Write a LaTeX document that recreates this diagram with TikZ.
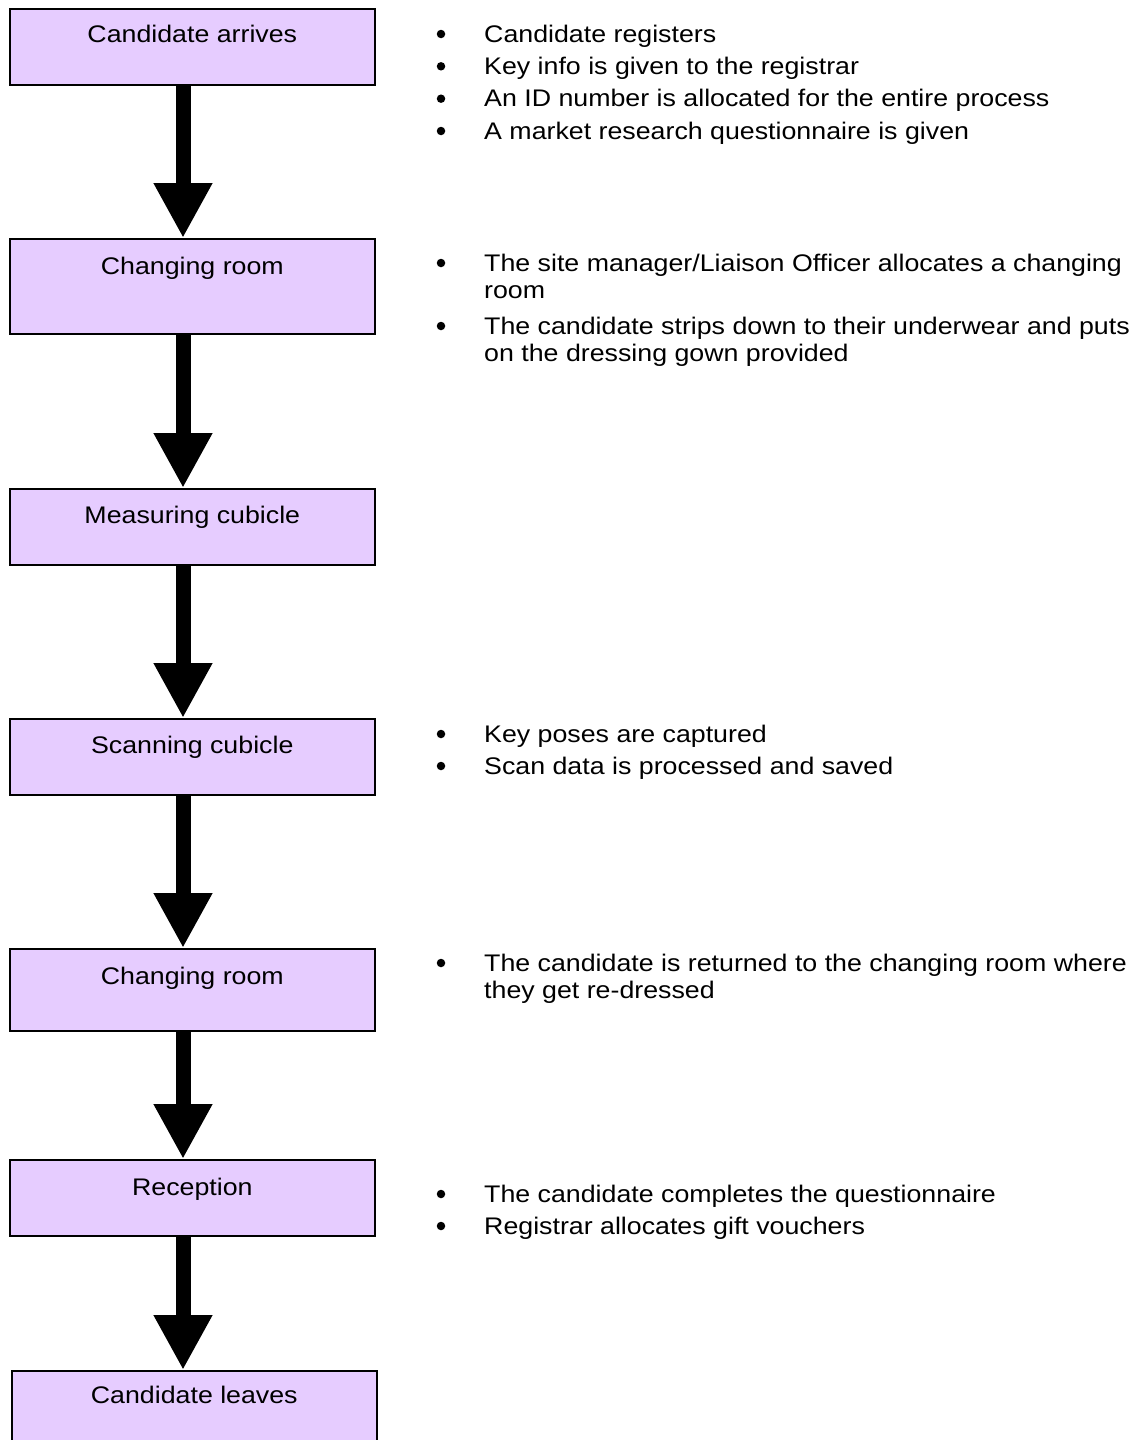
\documentclass[tikz,border=0pt]{standalone}
\usepackage{fontspec}
\setmainfont{Liberation Sans}[FakeStretch=1.115]
\usetikzlibrary{arrows.meta}
\definecolor{boxfill}{RGB}{230,204,255}
\begin{document}
\begin{tikzpicture}[x=1pt,y=-1pt,
  txt/.style={font=\fontsize{24pt}{27.6pt}\selectfont, inner sep=0pt},
  stagebox/.style={draw=black, line width=1.6pt, fill=boxfill, minimum width=365pt, inner sep=0pt, anchor=north west},
  boxlabel/.style={txt, anchor=base},
  bul/.style={circle, fill=black, minimum size=8.5pt, inner sep=0pt, yshift=8pt},
  btxt/.style={txt, anchor=base west},
  flow/.style={line width=15pt, -{Triangle[width=55pt,length=55pt]}}]
\useasboundingbox (0,0) rectangle (1135,1440);
\fill[white] (0,0) rectangle (1135,1440);
\clip (0,0) rectangle (1135,1440);

% stage boxes
\node[stagebox, minimum height=76pt] (b1) at (9,8) {};
\node[stagebox, minimum height=95pt] (b2) at (9,238) {};
\node[stagebox, minimum height=76pt] (b3) at (9,488) {};
\node[stagebox, minimum height=76pt] (b4) at (9,718) {};
\node[stagebox, minimum height=82pt] (b5) at (9,948) {};
\node[stagebox, minimum height=76pt] (b6) at (9,1159) {};
\node[stagebox, minimum height=90pt] (b7) at (11,1370) {};

% box labels
\node[boxlabel] (l1) at ([yshift=-34pt]b1.north) {Candidate arrives};
\node[boxlabel] (l2) at ([yshift=-36pt]b2.north) {Changing room};
\node[boxlabel] (l3) at ([yshift=-35pt]b3.north) {Measuring cubicle};
\node[boxlabel] (l4) at ([yshift=-35pt]b4.north) {Scanning cubicle};
\node[boxlabel] (l5) at ([yshift=-36pt]b5.north) {Changing room};
\node[boxlabel] (l6) at ([yshift=-36pt]b6.north) {Reception};
\node[boxlabel] (l7) at ([yshift=-33pt]b7.north) {Candidate leaves};

% arrows
\coordinate (ax) at (183,0);
\draw[flow] (b1.south -| ax) -- (b2.north -| ax);
\draw[flow] (b2.south -| ax) -- (b3.north -| ax);
\draw[flow] (b3.south -| ax) -- (b4.north -| ax);
\draw[flow] (b4.south -| ax) -- (b5.north -| ax);
\draw[flow] (b5.south -| ax) -- (b6.north -| ax);
\draw[flow] (b6.south -| ax) -- (b7.north -| ax);

% block 1
\node[bul] (p1) at (441,42) {};
\node[btxt] (t1) at (484,42) {Candidate registers};
\node[bul] (p2) at (441,74.3) {};
\node[btxt] (t2) at (484,74.3) {Key info is given to the registrar};
\node[bul] (p3) at (441,106.7) {};
\node[btxt] (t3) at (484,106.7) {An ID number is allocated for the entire process};
\node[bul] (p4) at (441,139) {};
\node[btxt] (t4) at (484,139) {A market research questionnaire is given};

% block 2
\node[bul] (p5) at (441,271) {};
\node[btxt] (t5) at (484,271) {The site manager/Liaison Officer allocates a changing};
\node[btxt] (t5b) at (484,298) {room};
\node[bul] (p6) at (441,334) {};
\node[btxt] (t6) at (484,334) {The candidate strips down to their underwear and puts};
\node[btxt] (t6b) at (484,361) {on the dressing gown provided};

% block 4
\node[bul] (p7) at (441,742) {};
\node[btxt] (t7) at (484,742) {Key poses are captured};
\node[bul] (p8) at (441,774) {};
\node[btxt] (t8) at (484,774) {Scan data is processed and saved};

% block 5
\node[bul] (p9) at (441,971) {};
\node[btxt] (t9) at (484,971) {The candidate is returned to the changing room where};
\node[btxt] (t9b) at (484,998) {they get re-dressed};

% block 6
\node[bul] (p10) at (441,1202) {};
\node[btxt] (t10) at (484,1202) {The candidate completes the questionnaire};
\node[bul] (p11) at (441,1234) {};
\node[btxt] (t11) at (484,1234) {Registrar allocates gift vouchers};
\end{tikzpicture}
\end{document}
